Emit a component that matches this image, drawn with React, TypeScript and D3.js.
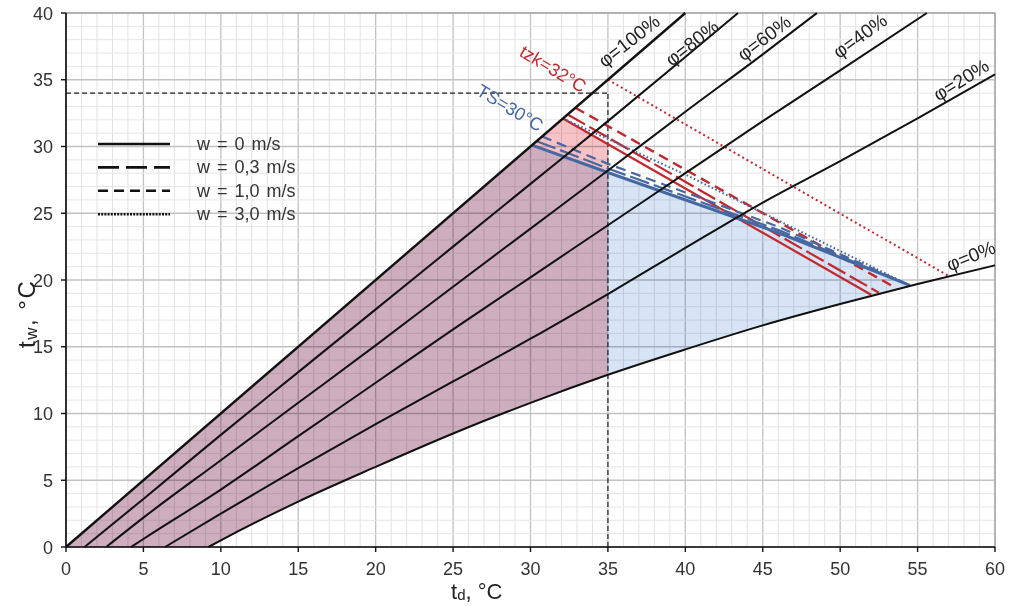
import React from 'react';
import * as d3 from 'd3';

type P = [number, number];

const xTicks = [0, 5, 10, 15, 20, 25, 30, 35, 40, 45, 50, 55, 60];
const yTicks = [0, 5, 10, 15, 20, 25, 30, 35, 40];

// relative humidity curves: [td, tw]
const phi100: P[] = [[0, 0], [40, 40]];
const phi80: P[] = [[1.2, 0], [5, 3.6], [10, 8.4], [15, 13.1], [20, 17.8], [25, 22.5], [30, 27.2], [35, 31.9], [40, 36.7], [43.4, 40]];
const phi60: P[] = [[2.6, 0], [5, 2.2], [10, 6.5], [15, 10.8], [20, 15.1], [25, 19.5], [30, 23.85], [35, 28.2], [40, 32.6], [45, 36.9], [48.5, 40]];
const phi40: P[] = [[4.2, 0], [5, 0.6], [10, 4.3], [15, 8.3], [20, 12.3], [25, 16.3], [30, 20.2], [35, 24.1], [40, 28.0], [45, 31.9], [50, 35.7], [55.6, 40]];
const phi20: P[] = [[6.4, 0], [10, 2.5], [15, 5.9], [20, 9.2], [25, 12.4], [30, 15.6], [35, 18.95], [40, 22.4], [45, 25.8], [50, 28.9], [55, 32.1], [60, 35.4]];
const phi0: P[] = [[9.2, 0], [10, 0.5], [15, 3.4], [20, 6.0], [25, 8.5], [30, 10.8], [35, 12.9], [40, 14.8], [45, 16.6], [50, 18.2], [55, 19.7], [60, 21.1]];

// tzk = 32 °C lines (red)
const redW0: P[] = [[32.1, 32.1], [52.0, 18.9]];
const redW03: P[] = [[32.4, 32.4], [52.5, 19.05]];
const redW10: P[] = [[32.9, 32.9], [53.6, 19.4]];
const redW30: P[] = [[35.0, 35.0], [57.0, 20.3]];

// TS = 30 °C lines (blue)
const blueW0: P[] = [[30.1, 30.1], [35, 28.05], [46.1, 23.5], [54.5, 19.6]];
const blueW03: P[] = [[30.4, 30.4], [35, 28.35], [46.1, 23.7], [54.5, 19.6]];
const blueW10: P[] = [[30.75, 30.75], [35, 28.7], [46.1, 23.95], [54.5, 19.6]];
const blueW30: P[] = [[32.1, 32.1], [40, 27.9], [46.1, 24.4], [54.5, 19.6]];

const phiLabels = [
  { text: 'φ=100%', x: 629, y: 41, rot: -38 },
  { text: 'φ=80%', x: 692, y: 43, rot: -38 },
  { text: 'φ=60%', x: 764, y: 38, rot: -37 },
  { text: 'φ=40%', x: 860, y: 36, rot: -36 },
  { text: 'φ=20%', x: 961, y: 80, rot: -32 },
  { text: 'φ=0%', x: 971, y: 256, rot: -22 },
];

const legendItems = [
  { label: 'w = 0 m/s', dash: '', width: 2.6 },
  { label: 'w = 0,3 m/s', dash: '21,7', width: 2.6 },
  { label: 'w = 1,0 m/s', dash: '10,6', width: 2.6 },
  { label: 'w = 3,0 m/s', dash: '2,1.2', width: 2.4 },
];

const RED = '#c3272d';
const BLUE = '#4568a3';
const FONT = '"Liberation Sans", Arial, sans-serif';

export default function App() {
  const W = 1010, H = 606;
  const left = 66, right = 995, top = 13, bottom = 547;
  const x = d3.scaleLinear().domain([0, 60]).range([left, right]);
  const y = d3.scaleLinear().domain([0, 40]).range([bottom, top]);

  const curve = d3.line<P>().x(d => x(d[0])).y(d => y(d[1])).curve(d3.curveMonotoneX);
  const poly = d3.line<P>().x(d => x(d[0])).y(d => y(d[1]));

  const interp = (pts: P[], v: number) =>
    d3.scaleLinear().domain(pts.map(p => p[0])).range(pts.map(p => p[1]))(v);

  const blueEnd = blueW0[blueW0.length - 1];
  const bluePoly: P[] = [
    [0, 0],
    ...blueW0,
    ...phi0.filter(p => p[0] < blueEnd[0]).slice().reverse(),
  ];
  const pinkPoly: P[] = [
    [0, 0],
    redW0[0],
    [35, interp(redW0, 35)],
    [35, interp(phi0, 35)],
    ...phi0.filter(p => p[0] < 35).slice().reverse(),
  ];

  const minorX = d3.range(0, 61, 1);
  const minorY = d3.range(0, 41, 1);

  return (
    <svg width={W} height={H} style={{ position: 'absolute', left: 0, top: 0, background: '#fff' }}
      fontFamily={FONT}>
      <rect x={0} y={0} width={W} height={H} fill="#fff" />
      <g>
        {minorX.map(v => (
          <line key={'gx' + v} x1={x(v)} x2={x(v)} y1={top} y2={bottom}
            stroke={v % 5 === 0 ? '#c2c2c2' : '#e2e2e2'} strokeWidth={v % 5 === 0 ? 1.3 : 1} />
        ))}
        {minorY.map(v => (
          <line key={'gy' + v} x1={left} x2={right} y1={y(v)} y2={y(v)}
            stroke={v % 5 === 0 ? '#c2c2c2' : '#e6e6e6'} strokeWidth={v % 5 === 0 ? 1.3 : 1} />
        ))}
        <rect x={left} y={top} width={right - left} height={bottom - top} fill="none" stroke="#a8a8a8" strokeWidth={1.5} />
      </g>

      <g>
        <path d={poly(bluePoly) + 'Z'} fill="#d6e4f5" style={{ mixBlendMode: 'multiply' }} />
        <path d={poly(pinkPoly) + 'Z'} fill="#f6c2c6" style={{ mixBlendMode: 'multiply' }} />
      </g>

      <line x1={x(0)} x2={x(35)} y1={y(34)} y2={y(34)} stroke="#222" strokeWidth={1.2} strokeDasharray="5,3" />
      <line x1={x(35)} x2={x(35)} y1={y(0)} y2={y(34)} stroke="#222" strokeWidth={1.2} strokeDasharray="5,3" />

      <path d={poly(redW30)!} fill="none" stroke={RED} strokeWidth={2} strokeDasharray="2,3" />
      <path d={poly(redW10)!} fill="none" stroke={RED} strokeWidth={2.4} strokeDasharray="10,6" />
      <path d={poly(redW03)!} fill="none" stroke={RED} strokeWidth={2.2} strokeDasharray="20,5" />
      <path d={poly(redW0)!} fill="none" stroke={RED} strokeWidth={2.2} />

      <path d={poly(blueW30)!} fill="none" stroke={BLUE} strokeWidth={2} strokeDasharray="1.6,2.4" />
      <path d={poly(blueW10)!} fill="none" stroke={BLUE} strokeWidth={2.2} strokeDasharray="10,6" />
      <path d={poly(blueW03)!} fill="none" stroke={BLUE} strokeWidth={2.2} strokeDasharray="20,5" />
      <path d={poly(blueW0)!} fill="none" stroke={BLUE} strokeWidth={3} />

      {[phi100, phi80, phi60, phi40, phi20, phi0].map((c, i) => (
        <path key={'phi' + i} d={curve(c)!} fill="none" stroke="#111" strokeWidth={i === 0 ? 2.4 : 2} />
      ))}

      <line x1={left} x2={left} y1={top} y2={bottom} stroke="#111" strokeWidth={1.6} />
      <line x1={left} x2={right} y1={bottom} y2={bottom} stroke="#111" strokeWidth={1.6} />
      {yTicks.map(v => (
        <g key={'yt' + v}>
          <line x1={left - 5} x2={left} y1={y(v)} y2={y(v)} stroke="#111" strokeWidth={1.4} />
          <text x={53} y={y(v) + 6.5} textAnchor="end" fontSize={18} fill="#333">{v}</text>
        </g>
      ))}
      {xTicks.map(v => (
        <g key={'xt' + v}>
          <line x1={x(v)} x2={x(v)} y1={bottom} y2={bottom + 5} stroke="#111" strokeWidth={1.4} />
          <text x={x(v)} y={575} textAnchor="middle" fontSize={18} fill="#333">{v}</text>
        </g>
      ))}

      <text x={451} y={599} fontSize={22} fill="#222">
        t<tspan fontSize={15} dy={1}>d</tspan><tspan dy={-1}>, °C</tspan>
      </text>
      <text transform={`translate(35,348) rotate(-90)`} fontSize={24} fill="#222" letterSpacing={1.5}>
        t<tspan fontSize={17} dy={2}>w</tspan><tspan dy={-2}>,  °C</tspan>
      </text>

      {phiLabels.map(l => (
        <text key={l.text} transform={`translate(${l.x},${l.y}) rotate(${l.rot})`} textAnchor="middle"
          dominantBaseline="central" fontSize={19} fill="#222">{l.text}</text>
      ))}
      <text transform="translate(553,69) rotate(31)" textAnchor="middle" dominantBaseline="central"
        fontSize={18} fill={RED}>tzk=32°C</text>
      <text transform="translate(510,108) rotate(31)" textAnchor="middle" dominantBaseline="central"
        fontSize={18} fill={BLUE}>TS=30°C</text>

      {legendItems.map((it, i) => {
        const ly = 144 + i * 23.4;
        return (
          <g key={it.label}>
            <line x1={98} x2={170} y1={ly} y2={ly} stroke="#111" strokeWidth={it.width}
              strokeDasharray={it.dash || undefined} />
            <text x={197} y={ly + 6} fontSize={18} fill="#333" wordSpacing={2}>{it.label}</text>
          </g>
        );
      })}
    </svg>
  );
}
